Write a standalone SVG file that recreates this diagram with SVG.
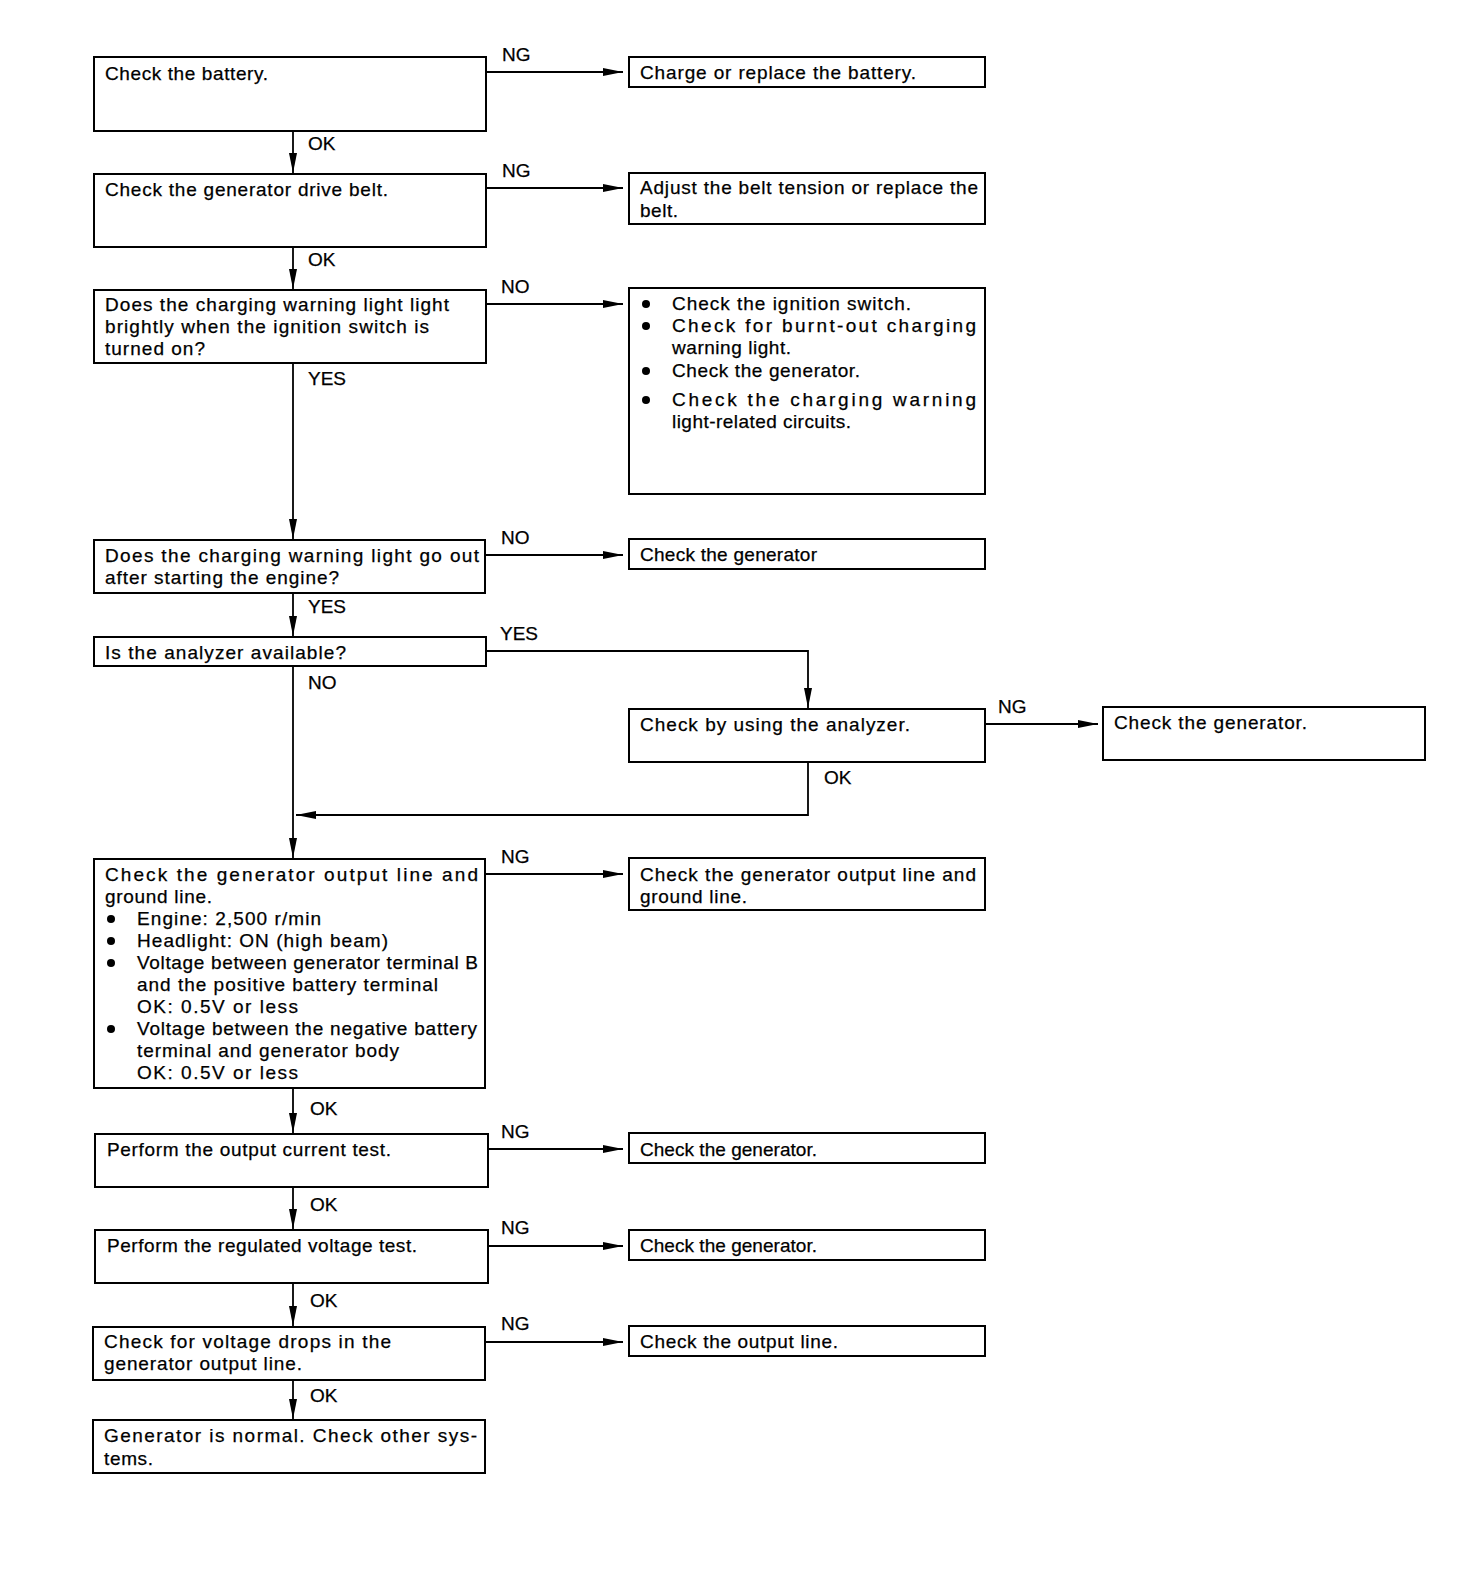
<svg xmlns="http://www.w3.org/2000/svg" width="1472" height="1576" viewBox="0 0 1472 1576">
<defs>
<style>
.box{fill:#fff;stroke:#000;stroke-width:2}
.ln{fill:none;stroke:#000;stroke-width:1.8}
.t{font-family:"Liberation Sans",Arial,sans-serif;font-size:19px;fill:#000;stroke:#000;stroke-width:0.25}
.l{font-family:"Liberation Sans",Arial,sans-serif;font-size:19px;fill:#000;stroke:#000;stroke-width:0.25}
.dot{fill:#000}
</style>
<marker id="ah" markerWidth="20" markerHeight="10" refX="20" refY="5" orient="auto" markerUnits="userSpaceOnUse"><path d="M0,1 L20,5 L0,9 z" fill="#000"/></marker>
</defs>
<rect width="1472" height="1576" fill="#fff"/>

<g id="connectors">
<line class="ln" x1="293" y1="131" x2="293" y2="173" marker-end="url(#ah)"/>
<line class="ln" x1="293" y1="247" x2="293" y2="289" marker-end="url(#ah)"/>
<line class="ln" x1="293" y1="363" x2="293" y2="539" marker-end="url(#ah)"/>
<line class="ln" x1="293" y1="593" x2="293" y2="636" marker-end="url(#ah)"/>
<line class="ln" x1="293" y1="666" x2="293" y2="858" marker-end="url(#ah)"/>
<line class="ln" x1="293" y1="1088" x2="293" y2="1133" marker-end="url(#ah)"/>
<line class="ln" x1="293" y1="1187" x2="293" y2="1229" marker-end="url(#ah)"/>
<line class="ln" x1="293" y1="1283" x2="293" y2="1326" marker-end="url(#ah)"/>
<line class="ln" x1="293" y1="1380" x2="293" y2="1419" marker-end="url(#ah)"/>
<line class="ln" x1="486" y1="72" x2="623" y2="72" marker-end="url(#ah)"/>
<line class="ln" x1="486" y1="188" x2="623" y2="188" marker-end="url(#ah)"/>
<line class="ln" x1="486" y1="304" x2="623" y2="304" marker-end="url(#ah)"/>
<line class="ln" x1="485" y1="555" x2="623" y2="555" marker-end="url(#ah)"/>
<polyline class="ln" points="486,651 808,651 808,708" marker-end="url(#ah)"/>
<line class="ln" x1="985" y1="724" x2="1098" y2="724" marker-end="url(#ah)"/>
<polyline class="ln" points="808,762 808,815 296,815" marker-end="url(#ah)"/>
<line class="ln" x1="485" y1="874" x2="623" y2="874" marker-end="url(#ah)"/>
<line class="ln" x1="488" y1="1149" x2="623" y2="1149" marker-end="url(#ah)"/>
<line class="ln" x1="488" y1="1246" x2="623" y2="1246" marker-end="url(#ah)"/>
<line class="ln" x1="485" y1="1342" x2="623" y2="1342" marker-end="url(#ah)"/>
<text class="l" x="502" y="61">NG</text>
<text class="l" x="308" y="150">OK</text>
<text class="l" x="502" y="177">NG</text>
<text class="l" x="308" y="266">OK</text>
<text class="l" x="501" y="293">NO</text>
<text class="l" x="308" y="385">YES</text>
<text class="l" x="501" y="544">NO</text>
<text class="l" x="308" y="613">YES</text>
<text class="l" x="500" y="640">YES</text>
<text class="l" x="308" y="689">NO</text>
<text class="l" x="998" y="713">NG</text>
<text class="l" x="824" y="784">OK</text>
<text class="l" x="501" y="863">NG</text>
<text class="l" x="310" y="1115">OK</text>
<text class="l" x="501" y="1138">NG</text>
<text class="l" x="310" y="1211">OK</text>
<text class="l" x="501" y="1234">NG</text>
<text class="l" x="310" y="1307">OK</text>
<text class="l" x="501" y="1330">NG</text>
<text class="l" x="310" y="1402">OK</text>
</g>

<g id="n1">
<rect class="box" x="94" y="57" width="392" height="74"/>
<text class="t" x="105" y="80" textLength="163" lengthAdjust="spacing">Check the battery.</text>
</g>
<g id="n2">
<rect class="box" x="94" y="174" width="392" height="73"/>
<text class="t" x="105" y="196" textLength="283" lengthAdjust="spacing">Check the generator drive belt.</text>
</g>
<g id="n3">
<rect class="box" x="94" y="290" width="392" height="73"/>
<text class="t" x="105" y="311" textLength="344" lengthAdjust="spacing">Does the charging warning light light</text>
<text class="t" x="105" y="333" textLength="324" lengthAdjust="spacing">brightly when the ignition switch is</text>
<text class="t" x="105" y="355" textLength="100" lengthAdjust="spacing">turned on?</text>
</g>
<g id="n4">
<rect class="box" x="94" y="540" width="391" height="53"/>
<text class="t" x="105" y="562" textLength="374" lengthAdjust="spacing">Does the charging warning light go out</text>
<text class="t" x="105" y="584" textLength="234" lengthAdjust="spacing">after starting the engine?</text>
</g>
<g id="n5">
<rect class="box" x="94" y="637" width="392" height="29"/>
<text class="t" x="105" y="659" textLength="241" lengthAdjust="spacing">Is the analyzer available?</text>
</g>
<g id="n6">
<rect class="box" x="94" y="859" width="391" height="229"/>
<text class="t" x="105" y="881" textLength="373" lengthAdjust="spacing">Check the generator output line and</text>
<text class="t" x="105" y="903" textLength="107" lengthAdjust="spacing">ground line.</text>
<circle class="dot" cx="111" cy="919" r="4"/>
<text class="t" x="137" y="925" textLength="184" lengthAdjust="spacing">Engine: 2,500 r/min</text>
<circle class="dot" cx="111" cy="941" r="4"/>
<text class="t" x="137" y="947" textLength="251" lengthAdjust="spacing">Headlight: ON (high beam)</text>
<circle class="dot" cx="111" cy="963" r="4"/>
<text class="t" x="137" y="969" textLength="341" lengthAdjust="spacing">Voltage between generator terminal B</text>
<text class="t" x="137" y="991" textLength="301" lengthAdjust="spacing">and the positive battery terminal</text>
<text class="t" x="137" y="1013" textLength="161" lengthAdjust="spacing">OK: 0.5V or less</text>
<circle class="dot" cx="111" cy="1029" r="4"/>
<text class="t" x="137" y="1035" textLength="340" lengthAdjust="spacing">Voltage between the negative battery</text>
<text class="t" x="137" y="1057" textLength="262" lengthAdjust="spacing">terminal and generator body</text>
<text class="t" x="137" y="1079" textLength="161" lengthAdjust="spacing">OK: 0.5V or less</text>
</g>
<g id="n7">
<rect class="box" x="95" y="1134" width="393" height="53"/>
<text class="t" x="107" y="1156" textLength="284" lengthAdjust="spacing">Perform the output current test.</text>
</g>
<g id="n8">
<rect class="box" x="95" y="1230" width="393" height="53"/>
<text class="t" x="107" y="1252" textLength="310" lengthAdjust="spacing">Perform the regulated voltage test.</text>
</g>
<g id="n9">
<rect class="box" x="93" y="1327" width="392" height="53"/>
<text class="t" x="104" y="1348" textLength="287" lengthAdjust="spacing">Check for voltage drops in the</text>
<text class="t" x="104" y="1370" textLength="198" lengthAdjust="spacing">generator output line.</text>
</g>
<g id="n10">
<rect class="box" x="93" y="1420" width="392" height="53"/>
<text class="t" x="104" y="1442" textLength="373" lengthAdjust="spacing">Generator is normal. Check other sys-</text>
<text class="t" x="104" y="1465" textLength="49" lengthAdjust="spacing">tems.</text>
</g>

<g id="r1">
<rect class="box" x="629" y="57" width="356" height="30"/>
<text class="t" x="640" y="79" textLength="276" lengthAdjust="spacing">Charge or replace the battery.</text>
</g>
<g id="r2">
<rect class="box" x="629" y="173" width="356" height="51"/>
<text class="t" x="640" y="194" textLength="338" lengthAdjust="spacing">Adjust the belt tension or replace the</text>
<text class="t" x="640" y="217" textLength="38" lengthAdjust="spacing">belt.</text>
</g>
<g id="r3">
<rect class="box" x="629" y="288" width="356" height="206"/>
<circle class="dot" cx="646" cy="304" r="4"/>
<text class="t" x="672" y="310" textLength="239" lengthAdjust="spacing">Check the ignition switch.</text>
<circle class="dot" cx="646" cy="326" r="4"/>
<text class="t" x="672" y="332" textLength="304" lengthAdjust="spacing">Check for burnt-out charging</text>
<text class="t" x="672" y="354" textLength="119" lengthAdjust="spacing">warning light.</text>
<circle class="dot" cx="646" cy="371" r="4"/>
<text class="t" x="672" y="377" textLength="188" lengthAdjust="spacing">Check the generator.</text>
<circle class="dot" cx="646" cy="400" r="4"/>
<text class="t" x="672" y="406" textLength="304" lengthAdjust="spacing">Check the charging warning</text>
<text class="t" x="672" y="428" textLength="179" lengthAdjust="spacing">light-related circuits.</text>
</g>
<g id="r4">
<rect class="box" x="629" y="539" width="356" height="30"/>
<text class="t" x="640" y="561" textLength="177" lengthAdjust="spacing">Check the generator</text>
</g>
<g id="r5">
<rect class="box" x="629" y="709" width="356" height="53"/>
<text class="t" x="640" y="731" textLength="270" lengthAdjust="spacing">Check by using the analyzer.</text>
</g>
<g id="r6">
<rect class="box" x="1103" y="707" width="322" height="53"/>
<text class="t" x="1114" y="729" textLength="193" lengthAdjust="spacing">Check the generator.</text>
</g>
<g id="r7">
<rect class="box" x="629" y="858" width="356" height="52"/>
<text class="t" x="640" y="881" textLength="336" lengthAdjust="spacing">Check the generator output line and</text>
<text class="t" x="640" y="903" textLength="107" lengthAdjust="spacing">ground line.</text>
</g>
<g id="r8">
<rect class="box" x="629" y="1133" width="356" height="30"/>
<text class="t" x="640" y="1156" textLength="177" lengthAdjust="spacing">Check the generator.</text>
</g>
<g id="r9">
<rect class="box" x="629" y="1230" width="356" height="30"/>
<text class="t" x="640" y="1252" textLength="177" lengthAdjust="spacing">Check the generator.</text>
</g>
<g id="r10">
<rect class="box" x="629" y="1326" width="356" height="30"/>
<text class="t" x="640" y="1348" textLength="198" lengthAdjust="spacing">Check the output line.</text>
</g>
</svg>
